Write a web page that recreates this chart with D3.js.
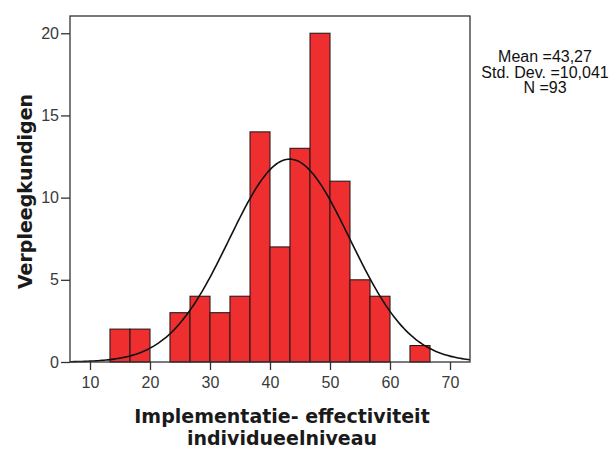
<!DOCTYPE html>
<html>
<head>
    <meta charset="utf-8">
    <title>Implementatie- effectiviteit histogram</title>
    <script src="https://cdnjs.cloudflare.com/ajax/libs/d3/7.8.5/d3.min.js"></script>
    <style>
        body { margin: 0; background: #fff; }
        .tick text { font-family: "Liberation Sans", Arial, sans-serif; font-size: 16px; fill: #3a3a3a; }
        .tick line, .domain { stroke: #333; stroke-width: 1.3px; }
        .axis-title { font-family: "DejaVu Sans", Verdana, sans-serif; font-weight: bold; fill: #1a1a1a; }
        .stats { font-family: "Liberation Sans", Arial, sans-serif; font-size: 16px; fill: #111; }
    </style>
</head>
<body>
<div id="chart"></div>
<script>
    // histogram bins (lower / upper edges) and counts
    const binLow  = [13.33, 16.67, 20, 23.33, 26.67, 30, 33.33, 36.67, 40, 43.33, 46.67, 50, 53.33, 56.67, 60, 63.33];
    const binHigh = [16.67, 20, 23.33, 26.67, 30, 33.33, 36.67, 40, 43.33, 46.67, 50, 53.33, 56.67, 60, 63.33, 66.67];
    const counts  = [2, 2, 0, 3, 4, 3, 4, 14, 7, 13, 20, 11, 5, 4, 0, 1];

    const xTicks = [10, 20, 30, 40, 50, 60, 70];
    const yTicks = [0, 5, 10, 15, 20];

    // summary stats shown next to the chart
    const mean = 43.27, stdDev = 10.041, n = 93;
    const statLines = ["Mean =43,27", "Std. Dev. =10,041", "N =93"];

    const width = 611, height = 450;
    const plot = {left: 70, right: 470, top: 16, bottom: 362};

    const svg = d3.select("#chart").append("svg")
        .attr("width", width)
        .attr("height", height);

    const x = d3.scaleLinear().domain([6.667, 73.333]).range([plot.left, plot.right]);
    const y = d3.scaleLinear().domain([0, 21.05]).range([plot.bottom, plot.top]);

    // bars
    svg.append("g").selectAll("rect")
        .data(counts.map((c, i) => ({lo: binLow[i], hi: binHigh[i], c})).filter(d => d.c > 0))
        .join("rect")
        .attr("x", d => x(d.lo))
        .attr("y", d => y(d.c))
        .attr("width", d => x(d.hi) - x(d.lo))
        .attr("height", d => y(0) - y(d.c))
        .attr("fill", "#ef2f2f")
        .attr("stroke", "#2a1a1a")
        .attr("stroke-width", 1.1);

    // fitted normal curve, scaled to counts per bin
    const binWidth = binHigh[0] - binLow[0];
    const normal = v => n * binWidth * Math.exp(-0.5 * ((v - mean) / stdDev) ** 2) / (stdDev * Math.sqrt(2 * Math.PI));
    const curvePts = d3.range(200 + 1).map(i => {
        const v = x.domain()[0] + (x.domain()[1] - x.domain()[0]) * i / 200;
        return [v, normal(v)];
    });
    svg.append("path")
        .datum(curvePts)
        .attr("fill", "none")
        .attr("stroke", "#111")
        .attr("stroke-width", 1.6)
        .attr("d", d3.line().x(d => x(d[0])).y(d => y(d[1])));

    // frame
    svg.append("rect")
        .attr("x", plot.left).attr("y", plot.top)
        .attr("width", plot.right - plot.left)
        .attr("height", plot.bottom - plot.top)
        .attr("fill", "none")
        .attr("stroke", "#333")
        .attr("stroke-width", 1.3);

    // axes
    svg.append("g")
        .attr("transform", `translate(0,${plot.bottom})`)
        .call(d3.axisBottom(x).tickValues(xTicks).tickSize(8).tickPadding(7).tickFormat(d3.format("d")))
        .call(g => g.select(".domain").remove());

    svg.append("g")
        .attr("transform", `translate(${plot.left},0)`)
        .call(d3.axisLeft(y).tickValues(yTicks).tickSize(9).tickPadding(2).tickFormat(d3.format("d")))
        .call(g => g.select(".domain").remove());

    // axis titles
    const xt = svg.append("text")
        .attr("class", "axis-title")
        .attr("text-anchor", "middle")
        .attr("font-size", 19);
    xt.append("tspan").attr("x", 282).attr("y", 423).text("Implementatie- effectiviteit");
    xt.append("tspan").attr("x", 282).attr("y", 445.3).text("individueelniveau");

    svg.append("text")
        .attr("class", "axis-title")
        .attr("text-anchor", "middle")
        .attr("font-size", 19)
        .attr("transform", "translate(32,191.5) rotate(-90)")
        .text("Verpleegkundigen");

    // stats box
    svg.append("g").selectAll("text")
        .data(statLines)
        .join("text")
        .attr("class", "stats")
        .attr("text-anchor", "middle")
        .attr("x", 545)
        .attr("y", (d, i) => 62 + i * 15.7)
        .text(d => d);
</script>
</body>
</html>
